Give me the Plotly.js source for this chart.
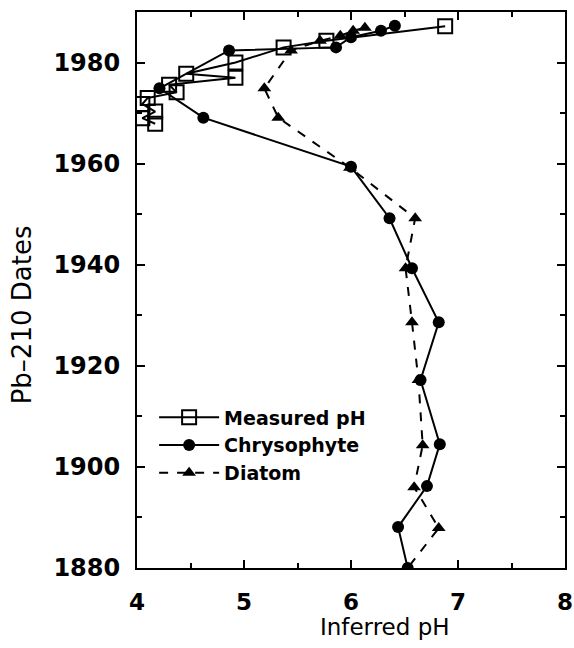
<!DOCTYPE html>
<html>
<head>
<meta charset="utf-8">
<script src="https://cdn.plot.ly/plotly-3.0.1.min.js"></script>
<style>html,body{margin:0;padding:0;background:#fff;}#chart{width:574px;height:648px;}</style>
</head>
<body>
<div id="chart"></div>
<script>
// Measured pH (squares)
const measuredPH   = [6.88, 5.77, 5.37, 4.92, 4.46, 4.92, 4.30, 4.37, 4.10, 4.05, 4.17, 4.05, 4.17];
const measuredYear = [1987.2, 1984.3, 1983.0, 1980.0, 1977.8, 1977.0, 1975.6, 1974.1, 1973.0, 1971.8, 1970.3, 1969.0, 1967.9];
// Chrysophyte-inferred pH (circles)
const chrysoPH   = [6.41, 6.28, 6.00, 5.86, 4.86, 4.21, 4.62, 6.00, 6.36, 6.57, 6.82, 6.65, 6.83, 6.71, 6.44, 6.53];
const chrysoYear = [1987.3, 1986.3, 1985.0, 1983.0, 1982.4, 1974.9, 1969.1, 1959.4, 1949.2, 1939.3, 1928.6, 1917.2, 1904.5, 1896.2, 1888.1, 1880.0];
// Diatom-inferred pH (triangles)
const diatomPH   = [6.13, 6.02, 5.90, 5.71, 5.44, 5.19, 5.32, 5.99, 6.60, 6.51, 6.57, 6.63, 6.67, 6.59, 6.82, 6.53];
const diatomYear = [1986.9, 1986.3, 1985.3, 1984.3, 1982.4, 1974.9, 1969.1, 1959.2, 1949.2, 1939.3, 1928.6, 1917.2, 1904.3, 1896.0, 1887.9, 1880.0];
// Axis ticks and titles
const xTicks = [4, 5, 6, 7, 8];
const yTicks = [1880, 1900, 1920, 1940, 1960, 1980];
const xTitle = "Inferred pH";
const yTitle = "Pb\u2013210 Dates";

const fontFam = "DejaVu Sans, sans-serif";

const traces = [
  {
    name: "Measured pH", x: measuredPH, y: measuredYear, mode: "lines+markers",
    line: {color: "#000", width: 2},
    marker: {symbol: "square-open", size: 14, color: "#000", line: {width: 2, color: "#000"}}
  },
  {
    name: "Chrysophyte", x: chrysoPH, y: chrysoYear, mode: "lines+markers",
    line: {color: "#000", width: 2},
    marker: {symbol: "circle", size: 12, color: "#000"}
  },
  {
    name: "Diatom", x: diatomPH, y: diatomYear, mode: "lines+markers",
    line: {color: "#000", width: 2, dash: "dash"},
    marker: {symbol: "triangle-up", size: 12, color: "#000"}
  }
];

const layout = {
  width: 574, height: 648,
  margin: {l: 137, r: 9, t: 12, b: 80},
  paper_bgcolor: "#fff", plot_bgcolor: "#fff",
  showlegend: true,
  legend: {
    x: 0.04, y: 0.305, xanchor: "left", yanchor: "top",
    bgcolor: "rgba(0,0,0,0)", borderwidth: 0,
    font: {family: fontFam, size: 19, color: "#000", weight: "bold"},
    itemwidth: 60, tracegroupgap: 2
  },
  xaxis: {
    range: [4, 8], tickvals: xTicks, ticktext: xTicks.map(String),
    ticks: "inside", ticklen: 8, tickwidth: 2, tickcolor: "#000",
    showline: true, linecolor: "#000", linewidth: 2, mirror: "ticks",
    showgrid: false, zeroline: false, ticklabeloverflow: "allow",
    ticklabelstandoff: 12,
    minor: {dtick: 0.5, tick0: 4, ticks: "inside", ticklen: 5, tickwidth: 2, tickcolor: "#000", showgrid: false},
    tickfont: {family: fontFam, size: 23, color: "#000", weight: "bold"}
  },
  yaxis: {
    range: [1880, 1990], tickvals: yTicks, ticktext: yTicks.map(String),
    ticks: "inside", ticklen: 8, tickwidth: 2, tickcolor: "#000",
    showline: true, linecolor: "#000", linewidth: 2, mirror: "ticks",
    showgrid: false, zeroline: false, ticklabelstandoff: 10,
    minor: {dtick: 10, tick0: 1880, ticks: "inside", ticklen: 5, tickwidth: 2, tickcolor: "#000", showgrid: false},
    tickfont: {family: fontFam, size: 24, color: "#000", weight: "bold"}
  },
  annotations: [
    {text: xTitle, xref: "paper", yref: "paper", x: 0.58, y: -0.106, xanchor: "center", yanchor: "middle",
     showarrow: false, font: {family: fontFam, size: 23, color: "#000", weight: 500}},
    {text: yTitle, xref: "paper", yref: "paper", x: -0.268, y: 0.455, xanchor: "center", yanchor: "middle",
     textangle: -90, showarrow: false, font: {family: fontFam, size: 26, color: "#000", weight: 500}}
  ]
};

Plotly.newPlot("chart", traces, layout, {staticPlot: true, displayModeBar: false});
</script>
</body>
</html>
